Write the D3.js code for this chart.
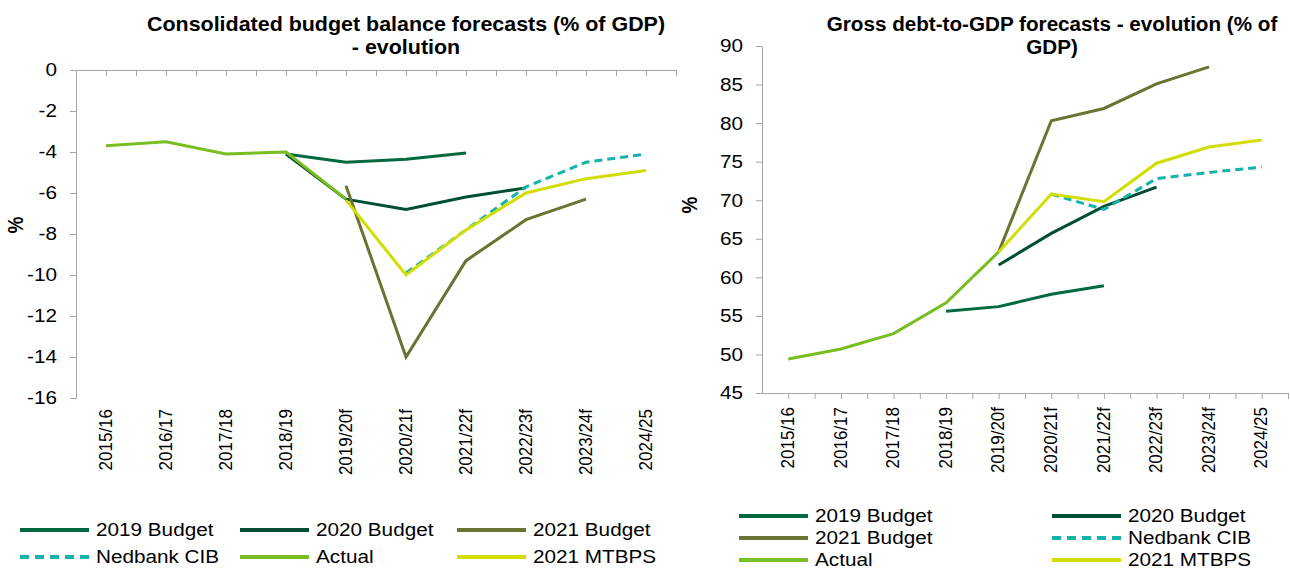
<!DOCTYPE html>
<html>
<head>
<meta charset="utf-8">
<script src="https://cdn.jsdelivr.net/npm/d3@7"></script>
<style>
  body { margin: 0; background: #fff; }
  svg { font-family: "Liberation Sans", Arial, sans-serif; }
  .axis path, .axis line { stroke: #a6a6a6; }
  .axis text { fill: #000; }
</style>
</head>
<body>
<div id="chart"></div>
<script>
// categories shared by both charts
var years = ["2015/16","2016/17","2017/18","2018/19","2019/20f","2020/21f","2021/22f","2022/23f","2023/24f","2024/25"];

// budget balance (% of GDP), null = no value
var bal2019Budget = [null, null, null, -4.1, -4.5, -4.35, -4.05, null, null, null];
var bal2020Budget = [null, null, null, -4.1, -6.3, -6.8, -6.2, -5.75, null, null];
var bal2021Budget = [null, null, null, null, -5.65, -14.0, -9.3, -7.3, -6.3, null];
var balNedbank    = [null, null, null, null, null, -9.9, -7.8, -5.7, -4.5, -4.1];
var balActual     = [-3.7, -3.5, -4.1, -4.0, -6.3, null, null, null, null, null];
var balMTBPS      = [null, null, null, null, -6.35, -10.0, -7.8, -6.0, -5.3, -4.9];
var balTicks = [0, -2, -4, -6, -8, -10, -12, -14, -16];

// gross debt (% of GDP)
var debt2019Budget = [null, null, null, 55.6, 56.2, 57.8, 58.9, null, null, null];
var debt2020Budget = [null, null, null, null, 61.6, 65.7, 69.2, 71.7, null, null];
var debt2021Budget = [null, null, null, null, 63.3, 80.3, 81.9, 85.1, 87.3, null];
var debtNedbank    = [null, null, null, null, null, 70.8, 68.8, 72.8, 73.6, 74.3];
var debtActual     = [49.4, 50.7, 52.7, 56.7, 63.3, null, null, null, null, null];
var debtMTBPS      = [null, null, null, null, 63.3, 70.8, 69.8, 74.8, 76.9, 77.8];
var debtTicks = [90, 85, 80, 75, 70, 65, 60, 55, 50, 45];

var seriesNames  = ["2019 Budget", "2020 Budget", "2021 Budget", "Nedbank CIB", "Actual", "2021 MTBPS"];
var seriesColors = ["#00693f", "#004f33", "#6b7333", "#14b3aa", "#78be21", "#d2dd00"];
var seriesDashed = [false, false, false, true, false, false];

// the source picture is a bit wider than tall, so text gets stretched sideways
const SX = 1.12;

var svg = d3.select("#chart")
            .append("svg")
            .attr("width", 1290)
            .attr("height", 569);

// move x/y of a text into a transform so it can be stretched around its anchor
function stretch(sel) {
    sel.each(function() {
        var t = d3.select(this);
        var x = +t.attr("x") || 0;
        var y = +t.attr("y") || 0;
        t.attr("x", 0).attr("y", 0)
         .attr("transform", `translate(${x},${y}) scale(${SX},1)`);
    });
}

function drawChart(opt) {
    var g = svg.append("g");

    var x = d3.scaleBand()
        .domain(years)
        .range([opt.x0, opt.x1])
        .padding(0);
    var y = d3.scaleLinear()
        .domain(opt.domain)
        .range([opt.y1, opt.y0]);

    // y axis (plain hyphen for negatives, like the source)
    g.append("g")
        .attr("class", "axis")
        .attr("transform", `translate(${opt.x0},0)`)
        .call(d3.axisLeft(y).tickValues(opt.ticks).tickFormat(d => String(d))
              .tickSize(6).tickSizeOuter(0).tickPadding(13))
        .call(a => a.selectAll("text").style("font-size", "18.5px").call(stretch));

    // category axis, ticks at every half category
    var half = d3.scaleLinear().domain([0, years.length]).range([opt.x0, opt.x1]);
    g.append("g")
        .attr("class", "axis")
        .attr("transform", `translate(0,${y(opt.cross)})`)
        .call(d3.axisBottom(half).tickValues(d3.range(0.5, years.length + 0.01, 0.5))
              .tickSize(6).tickSizeOuter(0).tickFormat(""));

    // category labels, rotated
    g.append("g")
        .selectAll("text")
        .data(years)
        .enter()
        .append("text")
            .attr("transform", d => `translate(${x(d) + x.bandwidth() / 2 - 1},${opt.labelY}) rotate(-90) scale(1,${SX})`)
            .attr("dy", "0.35em")
            .attr("text-anchor", "end")
            .style("font-size", "17px")
            .text(d => d);

    // lines
    var line = d3.line()
        .defined(d => d != null)
        .x((d, i) => x(years[i]) + x.bandwidth() / 2)
        .y(d => y(d));

    g.append("g")
        .selectAll("path")
        .data(opt.series)
        .enter()
        .append("path")
            .attr("d", d => line(d))
            .attr("fill", "none")
            .attr("stroke", (d, i) => seriesColors[i])
            .attr("stroke-width", 3)
            .attr("stroke-dasharray", (d, i) => seriesDashed[i] ? "8,5" : null);

    // title
    var title = g.append("text")
        .attr("transform", `translate(${opt.titleX},31) scale(${opt.titleSX},1)`)
        .attr("text-anchor", "middle")
        .style("font-size", "19.5px")
        .style("font-weight", "bold");
    title.selectAll("tspan")
        .data(opt.title)
        .enter()
        .append("tspan")
            .attr("x", 0)
            .attr("dy", (d, i) => i == 0 ? 0 : 23)
            .text(d => d);

    // y label
    g.append("text")
        .attr("transform", `translate(${opt.yLabelX},${opt.yLabelY}) rotate(-90) scale(1,${SX})`)
        .attr("text-anchor", "middle")
        .style("font-size", "19px")
        .style("font-weight", "bold")
        .text("%");

    // legend
    var leg = g.append("g")
        .selectAll("g")
        .data(opt.legend)
        .enter()
        .append("g")
            .attr("transform", d => `translate(${d.x},${d.y})`);
    leg.append("line")
        .attr("x1", 0).attr("x2", 69)
        .attr("stroke", d => seriesColors[d.i])
        .attr("stroke-width", 4)
        .attr("stroke-dasharray", d => seriesDashed[d.i] ? "9,6" : null);
    leg.append("text")
        .attr("x", 76)
        .attr("dy", "0.35em")
        .style("font-size", "18.5px")
        .text(d => seriesNames[d.i])
        .call(stretch);
}

drawChart({
    x0: 76, x1: 676, y0: 70, y1: 398,
    domain: [-16, 0], ticks: balTicks, cross: 0,
    labelY: 409,
    series: [bal2019Budget, bal2020Budget, bal2021Budget, balNedbank, balActual, balMTBPS],
    title: ["Consolidated budget balance forecasts (% of GDP)", "- evolution"],
    titleX: 406, titleSX: 1.1,
    yLabelX: 23, yLabelY: 225,
    legend: [
        {i: 0, x: 20, y: 530}, {i: 1, x: 240, y: 530}, {i: 2, x: 457, y: 530},
        {i: 3, x: 20, y: 557}, {i: 4, x: 240, y: 557}, {i: 5, x: 457, y: 557}
    ]
});

drawChart({
    x0: 762, x1: 1288, y0: 46, y1: 393,
    domain: [45, 90], ticks: debtTicks, cross: 45,
    labelY: 407,
    series: [debt2019Budget, debt2020Budget, debt2021Budget, debtNedbank, debtActual, debtMTBPS],
    title: ["Gross debt-to-GDP forecasts - evolution (% of", "GDP)"],
    titleX: 1052, titleSX: 1.06,
    yLabelX: 697, yLabelY: 205,
    legend: [
        {i: 0, x: 739, y: 516}, {i: 1, x: 1052, y: 516},
        {i: 2, x: 739, y: 538}, {i: 3, x: 1052, y: 538},
        {i: 4, x: 739, y: 560}, {i: 5, x: 1052, y: 560}
    ]
});
</script>
</body>
</html>
